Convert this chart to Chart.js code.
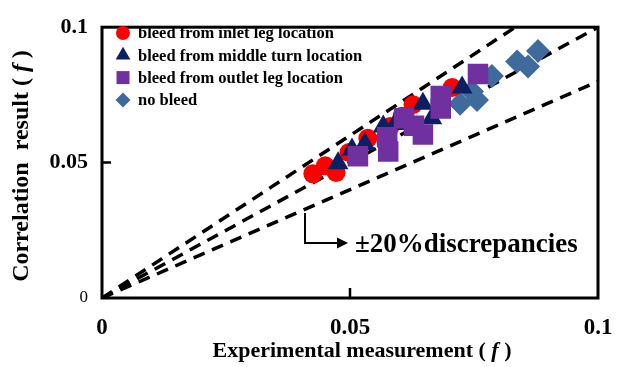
<!DOCTYPE html>
<html lang="en">
<head>
<meta charset="UTF-8">
<title>Correlation vs experiment</title>
<script src="https://cdn.jsdelivr.net/npm/chart.js"></script>
<style>
    html, body { margin: 0; padding: 0; background: #fff; }
</style>
</head>
<body>
<canvas id="fChart" width="630" height="367"></canvas>
<script>
// friction factor values
const inletX = [0.0425, 0.0450, 0.0472, 0.0498, 0.0536, 0.0581, 0.0605, 0.0627, 0.0706];
const inletY = [0.0459, 0.0488, 0.0463, 0.0537, 0.0590, 0.0633, 0.0671, 0.0714, 0.0777];

const middleX = [0.0476, 0.0504, 0.0530, 0.0567, 0.0591, 0.0647, 0.0665, 0.0726];
const middleY = [0.0498, 0.0548, 0.0569, 0.0633, 0.0643, 0.0717, 0.0664, 0.0777];

const outletX = [0.0516, 0.0575, 0.0577, 0.0609, 0.0629, 0.0647, 0.0683, 0.0683, 0.0758];
const outletY = [0.0523, 0.0594, 0.0541, 0.0664, 0.0636, 0.0604, 0.0746, 0.0700, 0.0827];

const noBleedX = [0.0722, 0.0746, 0.0756, 0.0786, 0.0837, 0.0859, 0.0879];
const noBleedY = [0.0717, 0.0763, 0.0731, 0.0820, 0.0873, 0.0855, 0.0912];

// perfect agreement and +/-20% lines
const refSlopes = [1.2, 1.0, 0.8];

const axisMin = 0;
const axisMax = 0.1;
const tickValues = [0, 0.05, 0.1];
const tickLabels = ['0', '0.05', '0.1'];

const serif = '"Liberation Serif", "Times New Roman", serif';

function pairs(xs, ys) {
    return xs.map((x, i) => ({ x: x, y: ys[i] }));
}

function refLine(s) {
    const xEnd = Math.min(axisMax, axisMax / s);
    return [{ x: 0, y: 0 }, { x: xEnd, y: xEnd * s }];
}

const lineSets = refSlopes.map(s => ({
    data: refLine(s),
    showLine: true,
    borderColor: '#000',
    borderWidth: 3.5,
    borderDash: [12, 8],
    pointRadius: 0,
    order: 10,
    inLegend: false
}));

const pointSets = [
    { label: 'bleed from inlet leg location', data: pairs(inletX, inletY),
      pointStyle: 'circle', pointRadius: 9.5, backgroundColor: '#ff0000', order: 3 },
    { label: 'bleed from middle turn location', data: pairs(middleX, middleY),
      pointStyle: 'triangle', pointRadius: 12, backgroundColor: '#0b1f63', order: 2 },
    { label: 'bleed from outlet leg location', data: pairs(outletX, outletY),
      pointStyle: 'rect', pointRadius: 14.5, backgroundColor: '#7030a0', order: 1 },
    { label: 'no bleed', data: pairs(noBleedX, noBleedY),
      pointStyle: 'rectRot', pointRadius: 12, backgroundColor: '#3f6a9c', order: 4 }
].map(d => Object.assign(d, { borderWidth: 0, borderColor: d.backgroundColor, pointHoverRadius: d.pointRadius, inLegend: true }));

function drawMarker(ctx, style, x, y, r, color) {
    ctx.fillStyle = color;
    ctx.beginPath();
    if (style === 'circle') {
        ctx.arc(x, y, r, 0, Math.PI * 2);
    } else if (style === 'triangle') {
        ctx.moveTo(x, y - r);
        ctx.lineTo(x + r * 0.866, y + r * 0.5);
        ctx.lineTo(x - r * 0.866, y + r * 0.5);
        ctx.closePath();
    } else if (style === 'rect') {
        ctx.rect(x - r, y - r, r * 2, r * 2);
    } else {
        ctx.moveTo(x, y - r);
        ctx.lineTo(x + r, y);
        ctx.lineTo(x, y + r);
        ctx.lineTo(x - r, y);
        ctx.closePath();
    }
    ctx.fill();
}

// draws pieces of text [text, font] in a row, centred on cx
function drawMixed(ctx, parts, cx, cy) {
    let total = 0;
    parts.forEach(p => { ctx.font = p[1]; total += ctx.measureText(p[0]).width; });
    let x = cx - total / 2;
    ctx.textAlign = 'left';
    ctx.textBaseline = 'middle';
    parts.forEach(p => {
        ctx.font = p[1];
        ctx.fillText(p[0], x, cy);
        x += ctx.measureText(p[0]).width;
    });
}

const decorations = {
    id: 'decorations',
    afterDraw(chart) {
        const ctx = chart.ctx;
        const a = chart.chartArea;
        const xs = chart.scales.x;
        const ys = chart.scales.y;
        ctx.save();
        ctx.fillStyle = '#000';
        ctx.strokeStyle = '#000';

        // frame
        ctx.lineWidth = 3;
        ctx.strokeRect(a.left, a.top, a.right - a.left, a.bottom - a.top);

        // inward tick marks at the mid value
        ctx.lineWidth = 2.5;
        ctx.beginPath();
        const tx = xs.getPixelForValue(tickValues[1]);
        ctx.moveTo(tx, a.bottom);
        ctx.lineTo(tx, a.bottom - 10);
        const ty = ys.getPixelForValue(tickValues[1]);
        ctx.moveTo(a.left, ty);
        ctx.lineTo(a.left + 9, ty);
        ctx.stroke();

        // legend in the upper left corner
        const legendSets = chart.data.datasets.filter(d => d.inLegend);
        const legendSize = { circle: 7, triangle: 8.5, rect: 6.5, rectRot: 7.5 };
        legendSets.forEach((d, i) => {
            const ly = 33 + i * 22.3;
            drawMarker(ctx, d.pointStyle, 123, ly, legendSize[d.pointStyle], d.backgroundColor);
            ctx.fillStyle = '#000';
            ctx.font = 'bold 16.5px ' + serif;
            ctx.textAlign = 'left';
            ctx.textBaseline = 'middle';
            ctx.fillText(d.label, 138, ly + 1);
        });

        // arrow pointing at the discrepancy lines label
        ctx.lineWidth = 2;
        ctx.beginPath();
        ctx.moveTo(305, 213);
        ctx.lineTo(305, 243);
        ctx.lineTo(338, 243);
        ctx.stroke();
        ctx.beginPath();
        ctx.moveTo(348, 243);
        ctx.lineTo(337, 237.5);
        ctx.lineTo(337, 248.5);
        ctx.closePath();
        ctx.fill();

        ctx.textAlign = 'left';
        ctx.textBaseline = 'alphabetic';
        ctx.font = 'bold 27px ' + serif;
        ctx.fillText('\u00b120%discrepancies', 355, 252);

        // axis titles
        const tf = 'bold 22px ' + serif;
        const tfi = 'italic bold 22px ' + serif;
        ctx.fillStyle = '#000';
        drawMixed(ctx, [['Experimental measurement ( ', tf], ['f', tfi], [' )', tf]], 362, 351);

        const yf = 'bold 24px ' + serif;
        const yfi = 'italic bold 24px ' + serif;
        ctx.translate(22, 166);
        ctx.rotate(-Math.PI / 2);
        drawMixed(ctx, [['Correlation  result ( ', yf], ['f', yfi], [' )', yf]], 0, 0);
        ctx.restore();
    }
};

new Chart(document.getElementById('fChart'), {
    type: 'scatter',
    data: { datasets: lineSets.concat(pointSets) },
    options: {
        responsive: false,
        animation: false,
        layout: { padding: { left: 0, right: 32, top: 15, bottom: 0 } },
        plugins: {
            legend: { display: false },
            tooltip: { enabled: false }
        },
        scales: {
            x: {
                type: 'linear',
                min: axisMin,
                max: axisMax,
                afterBuildTicks: s => { s.ticks = tickValues.map(v => ({ value: v })); },
                afterFit: s => { s.height = 69; },
                grid: { display: false, drawTicks: false },
                border: { display: false },
                ticks: {
                    padding: 16,
                    color: '#000',
                    maxRotation: 0,
                    font: { family: serif, size: 23, weight: 'bold' },
                    callback: (v, i) => tickLabels[i]
                }
            },
            y: {
                type: 'linear',
                min: axisMin,
                max: axisMax,
                afterBuildTicks: s => { s.ticks = tickValues.map(v => ({ value: v })); },
                afterFit: s => { s.width = 102; },
                grid: { display: false, drawTicks: false },
                border: { display: false },
                ticks: {
                    padding: 14,
                    color: '#000',
                    font: c => ({ family: serif, size: c.index === 0 ? 17 : 22, weight: c.index === 0 ? 'normal' : 'bold' }),
                    callback: (v, i) => tickLabels[i]
                }
            }
        }
    },
    plugins: [decorations]
});
</script>
</body>
</html>
